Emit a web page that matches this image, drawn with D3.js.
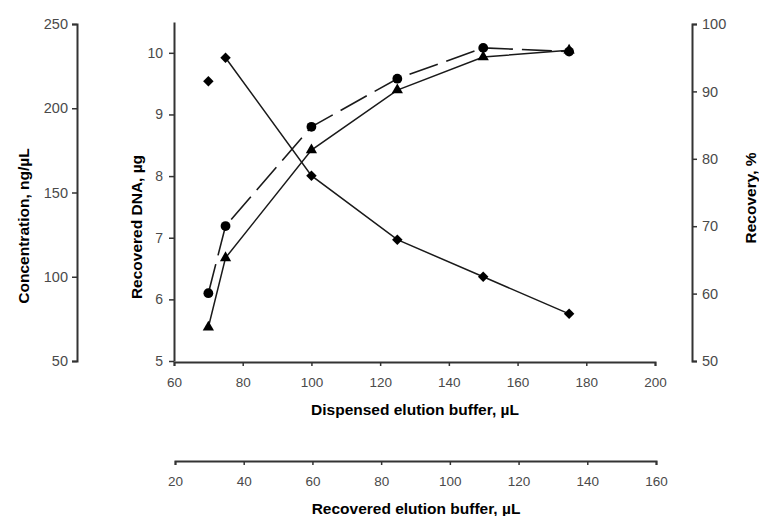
<!DOCTYPE html>
<html>
<head>
<meta charset="utf-8">
<script src="https://cdn.jsdelivr.net/npm/d3@7"></script>
<style>
  body { margin: 0; background: #fff; }
  svg { font-family: "Liberation Sans", Arial, sans-serif; }
</style>
</head>
<body>
<div class="chartContainer"></div>
<script>
// dispensed elution buffer, µL
const dispensed = [70, 75, 100, 125, 150, 175];
// recovered DNA, µg (circles, dashed line)
const dnaValues = [6.1, 7.19, 8.8, 9.58, 10.08, 10.02];
// recovery, % (triangles, solid line)
const recoveryValues = [55.0, 65.3, 81.3, 90.2, 95.1, 96.1];
// concentration, ng/µL (diamonds); first point stands alone
const concValues = [216, 230, 160, 122, 100, 78];

const xTicks = [60, 80, 100, 120, 140, 160, 180, 200];
const x2Ticks = [20, 40, 60, 80, 100, 120, 140, 160];
const dnaTicks = [5, 6, 7, 8, 9, 10];
const concTicks = [50, 100, 150, 200, 250];
const recTicks = [50, 60, 70, 80, 90, 100];

const width = 759, height = 516;
const plotTop = 24, plotBottom = 361;

const svg = d3.select(".chartContainer").append("svg")
    .attr("width", width)
    .attr("height", height)
    .attr("viewBox", [0, 0, width, height]);

let x = d3.scaleLinear().domain([60, 200]).range([174, 655]);
let x2 = d3.scaleLinear().domain([20, 160]).range([175, 656]);
let yDna = d3.scaleLinear().domain([5, 10.5]).range([plotBottom, 22]);
let yConc = d3.scaleLinear().domain([50, 250]).range([plotBottom, plotTop]);
let yRec = d3.scaleLinear().domain([50, 100]).range([plotBottom, plotTop]);

const styleAxis = size => g => {
    g.select(".domain").attr("stroke", "#333").attr("stroke-width", 2);
    g.selectAll(".tick line").attr("stroke", "#333").attr("stroke-width", 1.5);
    g.selectAll(".tick text").attr("fill", "#4a4a4a").style("font-size", size + "px");
};

svg.append("g")
    .attr("transform", `translate(0,${plotBottom + 1})`)
    .call(d3.axisBottom(x).tickValues(xTicks).tickFormat(d3.format("d")).tickSize(4).tickSizeOuter(4).tickPadding(11))
    .call(styleAxis(13.5));

svg.append("g")
    .attr("transform", `translate(0,461)`)
    .call(d3.axisBottom(x2).tickValues(x2Ticks).tickFormat(d3.format("d")).tickSize(4).tickSizeOuter(4).tickPadding(11))
    .call(styleAxis(13.5));

svg.append("g")
    .attr("transform", `translate(174,0)`)
    .call(d3.axisLeft(yDna).tickValues(dnaTicks).tickFormat(d3.format("d")).tickSize(5).tickSizeOuter(0).tickPadding(6))
    .call(styleAxis(14));

svg.append("g")
    .attr("transform", `translate(77,0)`)
    .call(d3.axisLeft(yConc).tickValues(concTicks).tickFormat(d3.format("d")).tickSize(5).tickSizeOuter(5).tickPadding(4))
    .call(styleAxis(14.5));

svg.append("g")
    .attr("transform", `translate(692,0)`)
    .call(d3.axisRight(yRec).tickValues(recTicks).tickFormat(d3.format("d")).tickSize(5).tickSizeOuter(5).tickPadding(5))
    .call(styleAxis(14.5));

// axis titles
const title = (txt, tx, ty, rot) => svg.append("text")
    .attr("transform", `translate(${tx},${ty}) rotate(${rot})`)
    .attr("text-anchor", "middle")
    .attr("dy", "0.35em")
    .style("font-size", "15.5px")
    .style("font-weight", "bold")
    .attr("fill", "#000")
    .text(txt);

title("Concentration, ng/µL", 24, 226, -90);
title("Recovered DNA, µg", 137, 227, -90);
title("Recovery, %", 751, 198, -90);
title("Dispensed elution buffer, µL", 415, 410, 0);
title("Recovered elution buffer, µL", 416, 509, 0);

const ink = "#1a1a1a";

// lines
const dnaLine = d3.line().x((d, i) => x(dispensed[i])).y(d => yDna(d));
const recLine = d3.line().x((d, i) => x(dispensed[i])).y(d => yRec(d));
const concLine = d3.line().x((d, i) => x(dispensed[i + 1])).y(d => yConc(d));

svg.append("path")
    .datum(dnaValues)
    .attr("fill", "none")
    .attr("stroke", ink)
    .attr("stroke-width", 1.6)
    .attr("stroke-dasharray", "30,9")
    .attr("d", dnaLine);

svg.append("path")
    .datum(recoveryValues)
    .attr("fill", "none")
    .attr("stroke", ink)
    .attr("stroke-width", 1.5)
    .attr("d", recLine);

svg.append("path")
    .datum(concValues.slice(1))
    .attr("fill", "none")
    .attr("stroke", ink)
    .attr("stroke-width", 1.5)
    .attr("d", concLine);

// markers
svg.append("g").selectAll("path")
    .data(dnaValues)
    .join("path")
    .attr("transform", (d, i) => `translate(${x(dispensed[i])},${yDna(d)})`)
    .attr("d", d3.symbol(d3.symbolCircle, 75))
    .attr("fill", "#000");

svg.append("g").selectAll("path")
    .data(recoveryValues)
    .join("path")
    .attr("transform", (d, i) => `translate(${x(dispensed[i])},${yRec(d)})`)
    .attr("d", d3.symbol(d3.symbolTriangle, 55))
    .attr("fill", "#000");

svg.append("g").selectAll("path")
    .data(concValues)
    .join("path")
    .attr("transform", (d, i) => `translate(${x(dispensed[i])},${yConc(d)}) rotate(45)`)
    .attr("d", d3.symbol(d3.symbolSquare, 55))
    .attr("fill", "#000");
</script>
</body>
</html>
